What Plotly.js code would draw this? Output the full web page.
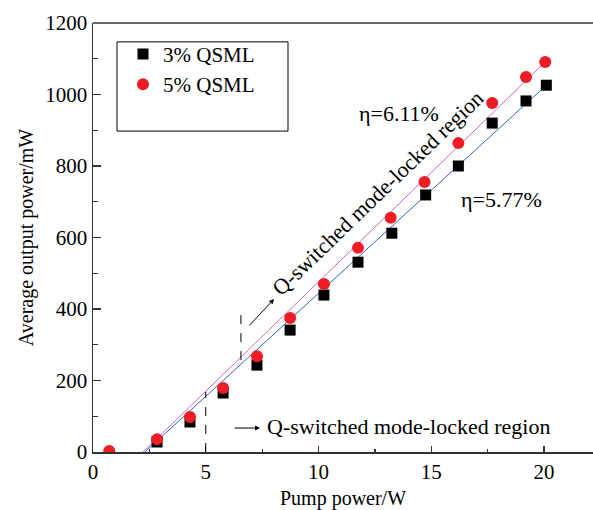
<!DOCTYPE html>
<html>
<head>
<meta charset="utf-8">
<script src="https://cdn.plot.ly/plotly-3.0.1.min.js"></script>
<style>html,body{margin:0;padding:0;background:#fff;}#chart{width:593px;height:510px;}</style>
</head>
<body>
<div id="chart"></div>
<script>
// Data
const pump3 = [2.84, 4.3, 5.77, 7.27, 8.74, 10.24, 11.75, 13.25, 14.75, 16.2, 17.7, 19.2, 20.1];
const power3 = [28, 84, 165, 243, 341, 439, 531, 612, 719, 800, 920, 982, 1026];
const pump5 = [0.72, 2.84, 4.3, 5.77, 7.27, 8.74, 10.24, 11.75, 13.2, 14.7, 16.2, 17.7, 19.2, 20.05];
const power5 = [3, 36, 98, 179, 268, 375, 470, 571, 655, 755, 864, 976, 1049, 1091];
// fitted lines (endpoints)
const fit3x = [2.3, 20.1];
const fit3y = [0, 1026];
const fit5x = [2.22, 20.05];
const fit5y = [0, 1091];
const xTicks = [0, 5, 10, 15, 20];
const yTicks = [0, 200, 400, 600, 800, 1000, 1200];

const font = "'Liberation Serif', 'Times New Roman', serif";

const traces = [
  {x: fit3x, y: fit3y, mode: 'lines', line: {color: '#3060c0', width: 1}, showlegend: false, hoverinfo: 'skip'},
  {x: fit5x, y: fit5y, mode: 'lines', line: {color: '#c46cc4', width: 1}, showlegend: false, hoverinfo: 'skip'},
  {x: pump3, y: power3, name: '3% QSML', mode: 'markers', marker: {symbol: 'square', size: 11, color: '#000'}},
  {x: pump5, y: power5, name: '5% QSML', mode: 'markers', marker: {symbol: 'circle', size: 12, color: '#ee1c24'}}
];

const layout = {
  width: 593, height: 510,
  margin: {l: 93, r: 0, t: 23, b: 58},
  paper_bgcolor: '#fff', plot_bgcolor: '#fff',
  font: {family: font, color: '#000', size: 21},
  showlegend: true,
  legend: {x: 0.06, y: 0.975, xanchor: 'left', yanchor: 'top', bgcolor: 'rgba(0,0,0,0)', borderwidth: 0, font: {size: 21, family: font}},
  xaxis: {
    range: [0, 22.17], tickvals: xTicks, ticktext: xTicks.map(String),
    ticks: 'inside', ticklen: 6, tickwidth: 1.2, tickcolor: '#333',
    minor: {dtick: 2.5, ticks: 'inside', ticklen: 3, tickcolor: '#333'},
    showline: true, linecolor: '#333', linewidth: 1.5, mirror: false,
    showgrid: false, zeroline: false,
    tickfont: {size: 21, family: font},
    title: {text: 'Pump power/W', font: {size: 20, family: font}, standoff: 8}
  },
  yaxis: {
    range: [0, 1200], tickvals: yTicks, ticktext: yTicks.map(String),
    ticks: 'inside', ticklen: 8, tickwidth: 1.2, tickcolor: '#333',
    minor: {dtick: 100, ticks: 'inside', ticklen: 5, tickcolor: '#333'},
    showline: true, linecolor: '#333', linewidth: 1.5,
    showgrid: false, zeroline: false,
    tickfont: {size: 21, family: font},
    title: {text: 'Average output power/mW', font: {size: 20, family: font}, standoff: 6}
  },
  shapes: [
    {type: 'line', xref: 'paper', yref: 'paper', x0: 0, x1: 1, y0: 1, y1: 1, line: {color: '#333', width: 1.5}},
    {type: 'rect', xref: 'paper', yref: 'paper', x0: 0.048, x1: 0.39, y0: 0.748, y1: 0.956, line: {color: '#000', width: 1}},
    {type: 'line', xref: 'x', yref: 'y', x0: 5, x1: 5, y0: 0, y1: 168, line: {color: '#000', width: 1, dash: 'dash'}},
    {type: 'line', xref: 'x', yref: 'y', x0: 6.56, x1: 6.56, y0: 257, y1: 400, line: {color: '#000', width: 1, dash: 'dash'}}
  ],
  annotations: [
    {x: 13.57, y: 948, text: 'η=6.11%', showarrow: false, font: {size: 22, family: font}},
    {x: 18.1, y: 705, text: 'η=5.77%', showarrow: false, font: {size: 22, family: font}},
    {x: 12.6, y: 724, text: 'Q-switched mode-locked region', showarrow: false, textangle: -44, font: {size: 22, family: font}},
    {x: 13.97, y: 70, text: 'Q-switched mode-locked region', showarrow: false, font: {size: 22, family: font}},
    {x: 7.41, y: 67, ax: 6.21, ay: 67, axref: 'x', ayref: 'y', text: '', showarrow: true, arrowhead: 2, arrowsize: 1, arrowwidth: 1, arrowcolor: '#000'},
    {x: 8.03, y: 428, ax: 6.87, ay: 350, axref: 'x', ayref: 'y', text: '', showarrow: true, arrowhead: 2, arrowsize: 1, arrowwidth: 1, arrowcolor: '#000'}
  ]
};

Plotly.newPlot('chart', traces, layout, {displayModeBar: false, staticPlot: true});
</script>
</body>
</html>
